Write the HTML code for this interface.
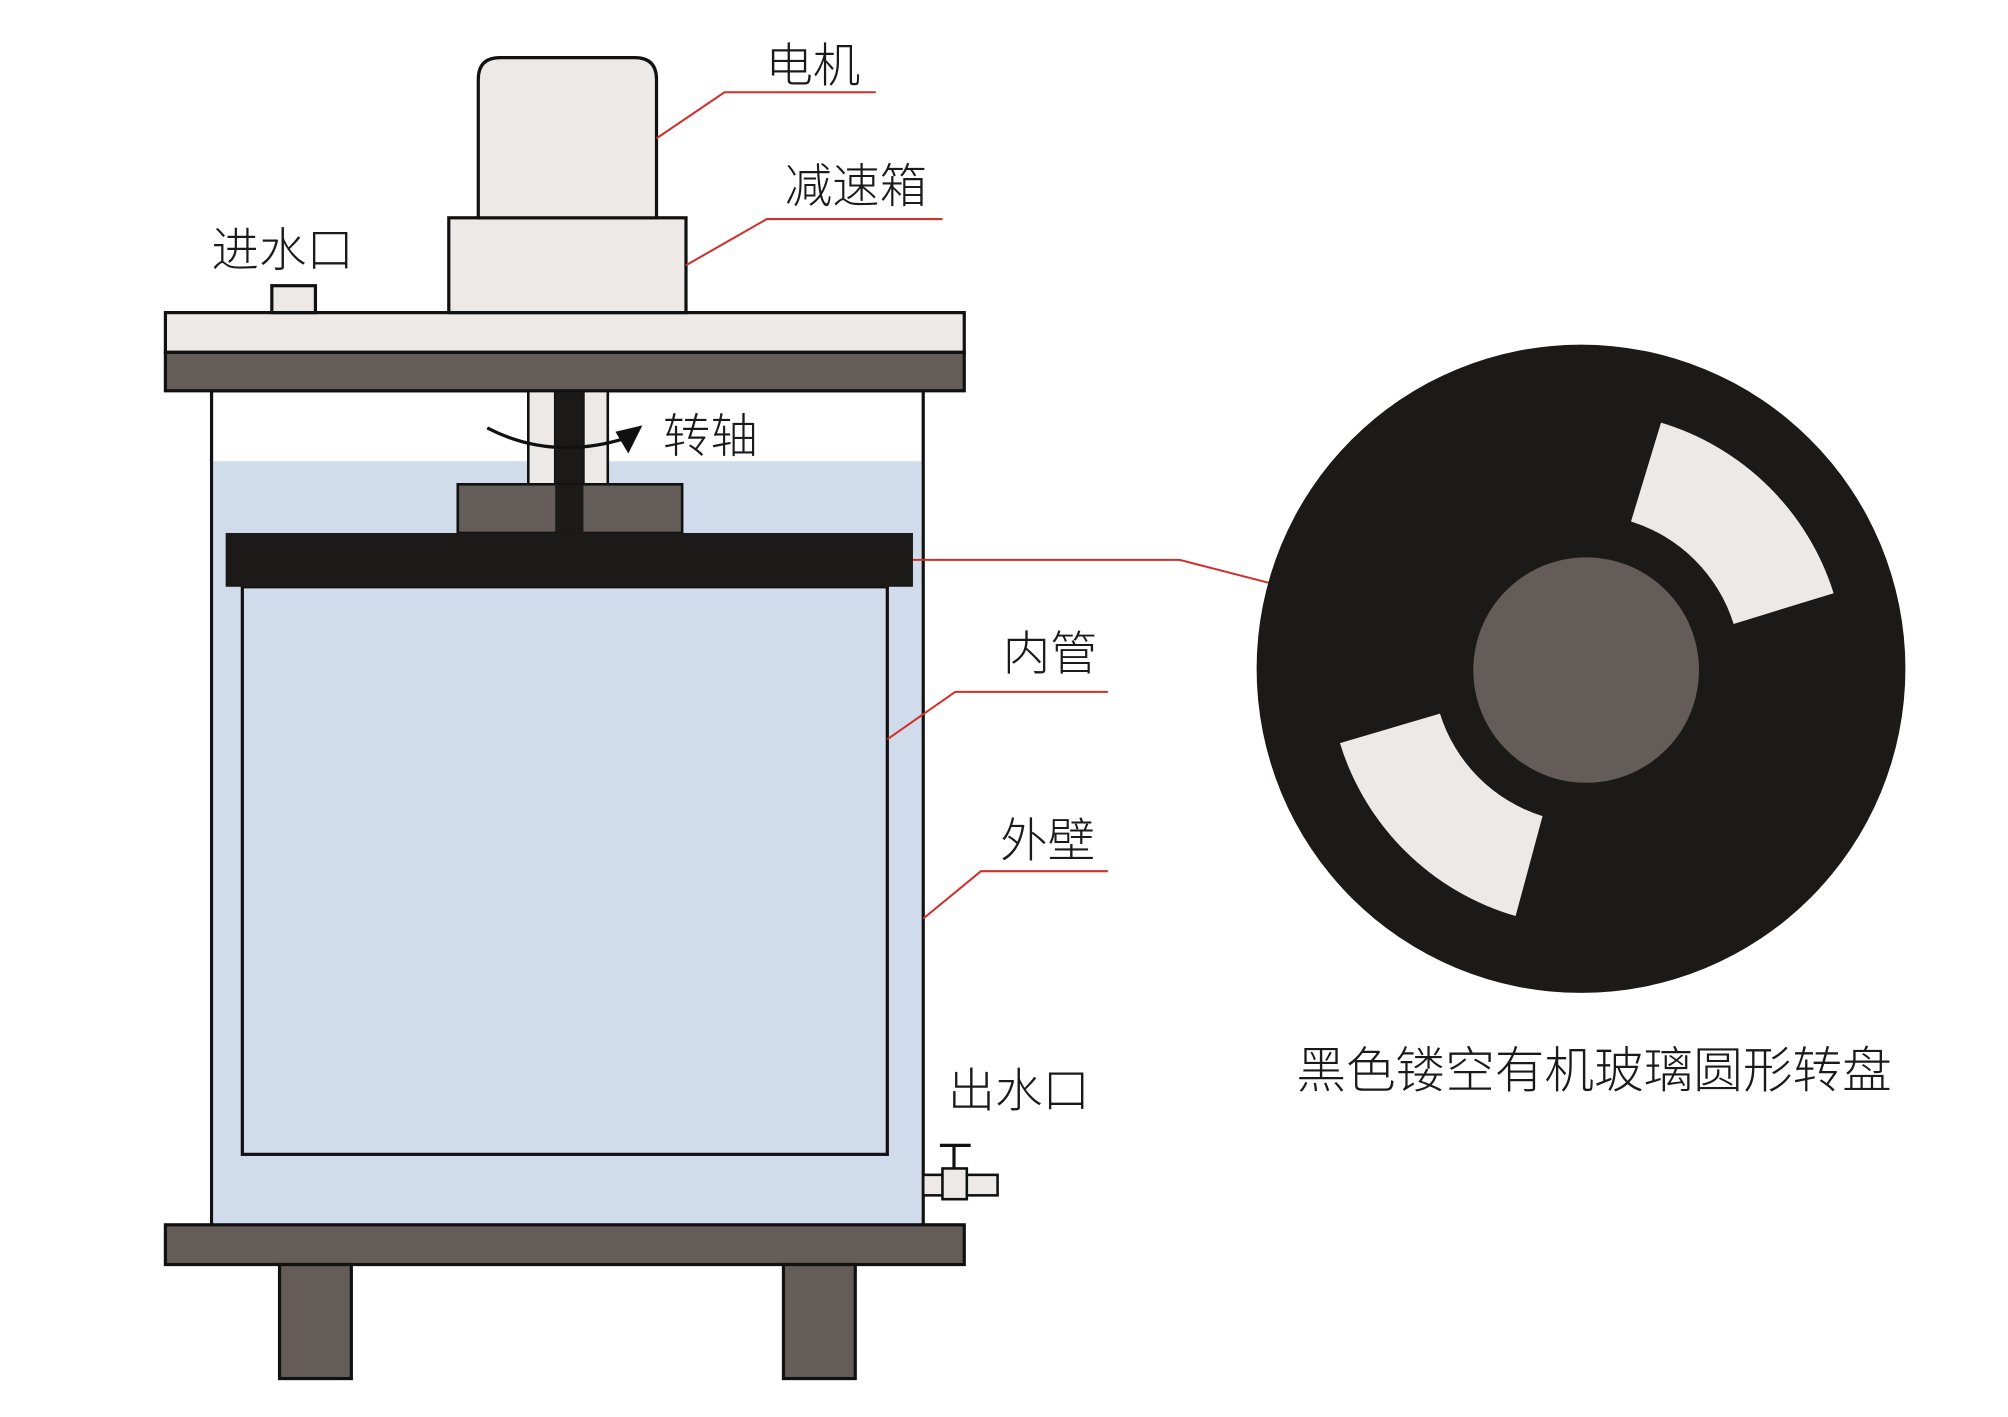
<!DOCTYPE html>
<html><head><meta charset="utf-8"><style>
html,body{margin:0;padding:0;background:#fff;}
svg{display:block;}
text{font-family:"Liberation Sans","Noto Sans CJK SC",sans-serif;font-size:37px;fill:#1a1a1a;font-weight:300;}
</style></head><body>
<svg width="2008" height="1417" viewBox="0 0 1566 1106" preserveAspectRatio="none" xmlns="http://www.w3.org/2000/svg">
<rect width="1566" height="1106" fill="#fff"/>
<rect x="165" y="305" width="555" height="651" fill="#fff" stroke="#111" stroke-width="2.5"/>
<rect x="166.5" y="360" width="552" height="595" fill="#d0dcec"/>
<rect x="412" y="305" width="21" height="73" fill="#ece9e6" stroke="#111" stroke-width="2"/>
<rect x="455" y="305" width="19" height="73" fill="#ece9e6" stroke="#111" stroke-width="2"/>
<rect x="433" y="305" width="22" height="111" fill="#1c1a18"/>
<rect x="357" y="378" width="175" height="38" fill="#645c58" stroke="#111" stroke-width="2"/>
<rect x="433" y="378" width="22" height="38" fill="#1c1a18"/>
<rect x="189" y="458" width="503" height="443" fill="#d0dcec" stroke="#111" stroke-width="2.5"/>
<rect x="176" y="416" width="536" height="42" fill="#1c1a18"/>
<rect x="129" y="244" width="623" height="31" fill="#ece9e6" stroke="#111" stroke-width="2.5"/>
<rect x="129" y="275" width="623" height="30" fill="#645c58" stroke="#111" stroke-width="2.5"/>
<rect x="350" y="170" width="185" height="74" fill="#ece9e6" stroke="#111" stroke-width="2.5"/>
<path d="M373,170 L373,62 Q373,45 390,45 L495,45 Q512,45 512,62 L512,170 Z" fill="#ece9e6" stroke="#111" stroke-width="2.5"/>
<rect x="212" y="223" width="34" height="21" fill="#ece9e6" stroke="#111" stroke-width="2.5"/>
<rect x="129" y="956" width="623" height="31" fill="#645c58" stroke="#111" stroke-width="2.5"/>
<rect x="218" y="987" width="56" height="89" fill="#645c58" stroke="#111" stroke-width="2.5"/>
<rect x="611" y="987" width="56" height="89" fill="#645c58" stroke="#111" stroke-width="2.5"/>
<rect x="720" y="917" width="58" height="16" fill="#ece9e6" stroke="#111" stroke-width="2"/>
<rect x="735" y="912" width="19" height="24" fill="#ece9e6" stroke="#111" stroke-width="2"/>
<line x1="744" y1="893" x2="744" y2="912" stroke="#111" stroke-width="2.5"/>
<line x1="733" y1="894" x2="757" y2="894" stroke="#111" stroke-width="2.5"/>
<path d="M380,334 Q430,360 488,342" fill="none" stroke="#111" stroke-width="2.5"/>
<path d="M501,332 L480,337 L490,354 Z" fill="#111"/>
<g fill="none" stroke="#d0302a" stroke-width="1.6">
<polyline points="512,108 565,72 683,72"/>
<polyline points="535,207 598,171 735,171"/>
<polyline points="712,437 920,437 990,455"/>
<polyline points="692,577 745,540 864,540"/>
<polyline points="720,717 765,680 864,680"/>
</g>
<circle cx="1233" cy="522" r="253" fill="#1c1a18"/>
<circle cx="1237" cy="523" r="88" fill="#645c58"/>
<path d="M1295.4,329.9 A202,202 0 0 1 1430,463 L1352,487 A122,122 0 0 0 1272,407 Z" fill="#ece9e6"/>
<path d="M1182,715 A202,202 0 0 1 1045,580 L1123,557 A122,122 0 0 0 1203,637 Z" fill="#ece9e6"/>
<text x="597" y="64">电机</text>
<text x="612" y="158">减速箱</text>
<text x="165" y="208">进水口</text>
<text x="517" y="353">转轴</text>
<text x="782" y="523">内管</text>
<text x="780" y="669">外壁</text>
<text x="739" y="864">出水口</text>
<text x="1011" y="849" style="font-size:38.7px">黑色镂空有机玻璃圆形转盘</text>
</svg>
</body></html>
